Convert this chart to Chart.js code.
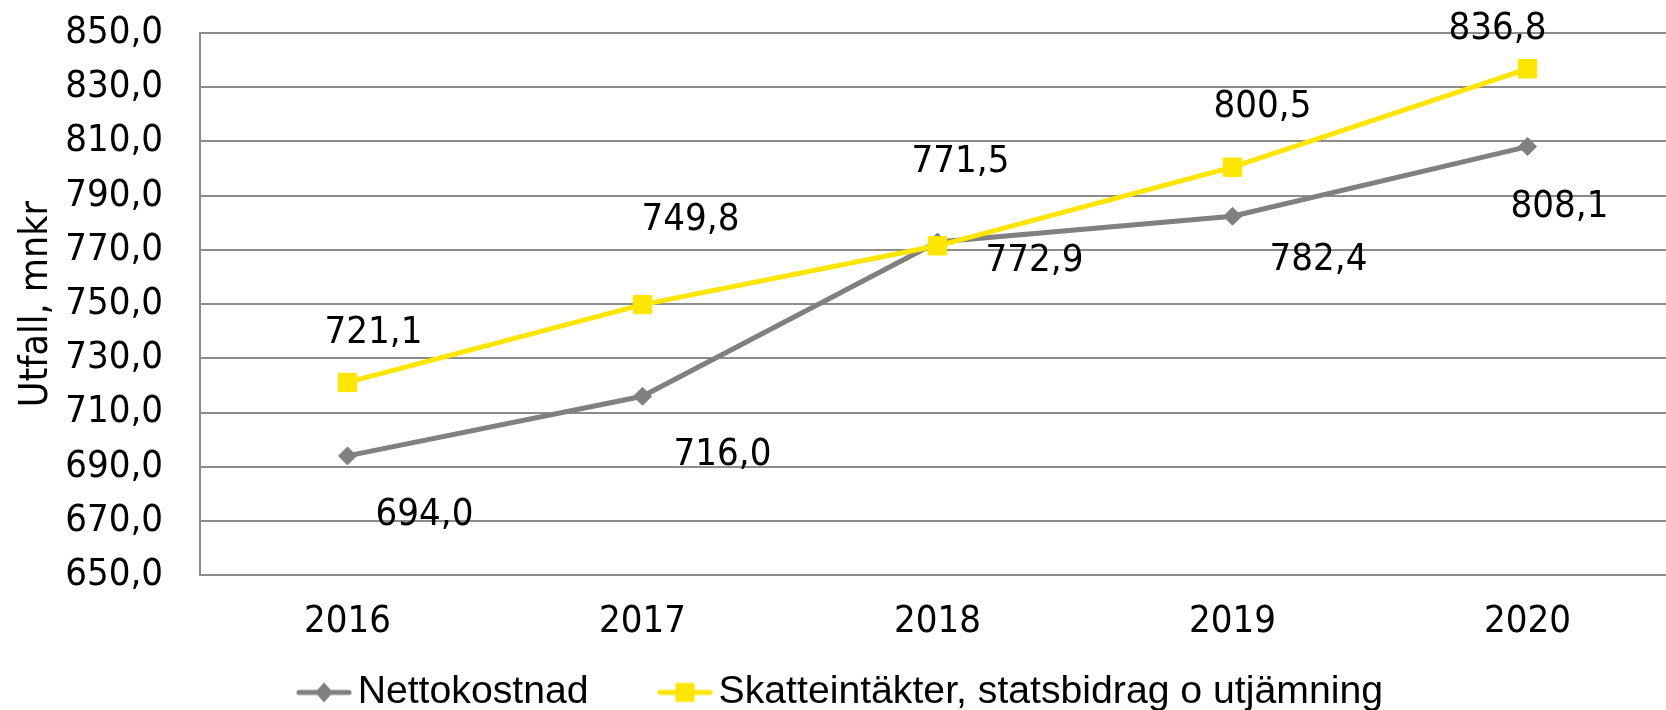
<!DOCTYPE html>
<html>
<head>
<meta charset="utf-8">
<script src="https://cdn.jsdelivr.net/npm/chart.js@4"></script>
<style>
  html, body { margin: 0; padding: 0; background: #fff; overflow: hidden; }
  /* the plot area runs a little past the right edge, as in the original */
  #wrap { width: 1666px; height: 710px; overflow: hidden; }
</style>
</head>
<body>
<div id="wrap"><canvas id="myChart" width="1675" height="710"></canvas></div>
<script>
// data
var years = ["2016", "2017", "2018", "2019", "2020"];
var nettokostnad = [694.0, 716.0, 772.9, 782.4, 808.1];
var skatteintakter = [721.1, 749.8, 771.5, 800.5, 836.8];
var seriesNames = ["Nettokostnad", "Skatteintäkter, statsbidrag o utjämning"];
var yMin = 650, yMax = 850, yStep = 20;
var yTitle = "Utfall, mnkr";

// where each value label sits relative to its point (px), like the hand-placed labels
var grayLabelShift = [[77, 59], [80, 59], [97, 19], [86, 44], [32, 61]];
var yellowLabelShift = [[26, -49], [48, -85], [23, -84], [30, -60], [-30, -40]];

var GRAY = "#808080";
var YELLOW = "#FFE600";
var GRID = "#8c8c8c";
var FONT = '"DejaVu Sans Condensed", "DejaVu Sans"';
var FONT_SIZE = 38;

function fmt(v) {
  return v.toFixed(1).replace(".", ",");
}

// legend icon: line with marker, like the spreadsheet legend
function legendIcon(color, shape) {
  var c = document.createElement("canvas");
  c.width = 56;
  c.height = 22;
  var g = c.getContext("2d");
  g.strokeStyle = color;
  g.fillStyle = color;
  g.lineWidth = 5;
  g.lineCap = "round";
  g.beginPath();
  g.moveTo(3, 11);
  g.lineTo(53, 11);
  g.stroke();
  if (shape === "diamond") {
    g.beginPath();
    g.moveTo(28, 1);
    g.lineTo(37, 11);
    g.lineTo(28, 21);
    g.lineTo(19, 11);
    g.closePath();
    g.fill();
  } else {
    g.fillRect(18.5, 1.5, 19, 19);
  }
  return c;
}

var pointLabels = {
  id: "pointLabels",
  afterDatasetsDraw: function (chart) {
    var ctx = chart.ctx;
    ctx.save();
    ctx.font = FONT_SIZE + "px " + FONT;
    ctx.fillStyle = "#000";
    ctx.textAlign = "center";
    ctx.textBaseline = "middle";
    chart.data.datasets.forEach(function (ds, i) {
      var meta = chart.getDatasetMeta(i);
      meta.data.forEach(function (pt, j) {
        var s = ds.labelShift[j];
        ctx.fillText(fmt(ds.data[j]), pt.x + s[0], pt.y + s[1]);
      });
    });
    ctx.restore();
  }
};

var icons = [legendIcon(GRAY, "diamond"), legendIcon(YELLOW, "square")];

var ctx = document.getElementById("myChart").getContext("2d");
var chart = new Chart(ctx, {
  type: "line",
  data: {
    labels: years,
    datasets: [
      {
        label: seriesNames[0],
        data: nettokostnad,
        labelShift: grayLabelShift,
        borderColor: GRAY,
        backgroundColor: GRAY,
        borderWidth: 5,
        pointStyle: "rectRot",
        pointRadius: 9,
        pointBorderWidth: 1,
        pointBackgroundColor: GRAY,
        pointBorderColor: GRAY,
        tension: 0,
        order: 2
      },
      {
        label: seriesNames[1],
        data: skatteintakter,
        labelShift: yellowLabelShift,
        borderColor: YELLOW,
        backgroundColor: YELLOW,
        borderWidth: 5,
        pointStyle: "rect",
        pointRadius: 13,
        pointBorderWidth: 1,
        pointBackgroundColor: YELLOW,
        pointBorderColor: YELLOW,
        tension: 0,
        order: 1
      }
    ]
  },
  options: {
    responsive: false,
    animation: false,
    events: [],
    layout: {
      autoPadding: false,
      padding: { top: 33, right: 0, bottom: -12, left: 18 }
    },
    scales: {
      x: {
        offset: true,
        afterFit: function (scale) {
          scale.paddingLeft = 0;
          scale.paddingRight = 0;
          scale.height = scale.height - 24;
        },
        grid: { display: false, drawTicks: false },
        border: { display: true, color: GRID, width: 2 },
        ticks: {
          color: "#000",
          padding: 24,
          font: { family: FONT, size: FONT_SIZE }
        }
      },
      y: {
        min: yMin,
        max: yMax,
        afterFit: function (scale) {
          scale.width = 182;
          scale.paddingTop = 0;
          scale.paddingBottom = 0;
        },
        grid: { color: GRID, lineWidth: 2, drawTicks: false },
        border: { display: true, color: GRID, width: 2 },
        ticks: {
          stepSize: yStep,
          color: "#000",
          padding: 37,
          font: { family: FONT, size: FONT_SIZE },
          callback: function (v) { return fmt(v); }
        },
        title: {
          display: true,
          text: yTitle,
          color: "#000",
          padding: { top: -5, bottom: 0 },
          font: { family: FONT, size: 39 }
        }
      }
    },
    plugins: {
      tooltip: { enabled: false },
      legend: {
        position: "bottom",
        labels: {
          usePointStyle: true,
          pointStyleWidth: 28,
          padding: 28,
          color: "#000",
          font: { family: "Liberation Sans", size: 39.2 },
          generateLabels: function (ch) {
            return ch.data.datasets.map(function (ds, i) {
              return {
                // trailing spaces widen the gap between the two legend entries
                text: i === 0 ? ds.label + "     " : ds.label,
                pointStyle: icons[i],
                fillStyle: ds.borderColor,
                strokeStyle: ds.borderColor,
                lineWidth: 0,
                hidden: false,
                datasetIndex: i
              };
            });
          }
        }
      }
    }
  },
  plugins: [pointLabels]
});
</script>
</body>
</html>
